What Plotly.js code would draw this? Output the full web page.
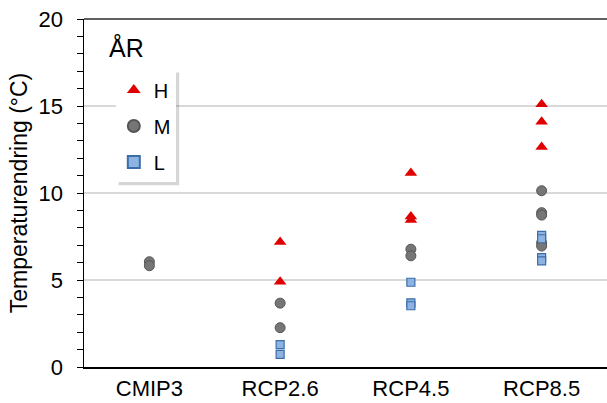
<!DOCTYPE html>
<html><head><meta charset="utf-8">
<script src="https://cdn.plot.ly/plotly-3.0.1.min.js"></script>
<style>html,body{margin:0;padding:0;background:#fff}</style>
</head><body>
<div id="chart" style="width:607px;height:403px"></div>
<script>
const categories = ["CMIP3", "RCP2.6", "RCP4.5", "RCP8.5"];
const hCat = ["RCP2.6","RCP2.6","RCP4.5","RCP4.5","RCP4.5","RCP8.5","RCP8.5","RCP8.5"];
const hVal = [7.18, 4.9, 11.15, 8.65, 8.45, 15.1, 14.1, 12.65];
const mCat = ["CMIP3","CMIP3","RCP2.6","RCP2.6","RCP4.5","RCP4.5","RCP8.5","RCP8.5","RCP8.5","RCP8.5","RCP8.5"];
const mVal = [6.05, 5.82, 3.67, 2.26, 6.77, 6.39, 10.13, 8.87, 8.73, 7.14, 6.95];
const lCat = ["RCP2.6","RCP2.6","RCP4.5","RCP4.5","RCP4.5","RCP8.5","RCP8.5","RCP8.5","RCP8.5"];
const lVal = [1.29, 0.72, 4.87, 3.69, 3.52, 7.56, 7.37, 6.29, 6.1];
const yTicks = [0, 5, 10, 15, 20];

const font = "Liberation Sans, Arial, sans-serif";
const traces = [
  {type:"scatter", mode:"markers", name:"H", legendgroup:"h", x:hCat, y:hVal,
   marker:{symbol:"triangle-up", size:11, color:"#e00000", line:{width:0}}},
  {type:"scatter", mode:"markers", name:"M", legendgroup:"m", x:mCat, y:mVal,
   marker:{symbol:"circle", size:10, color:"#767676", line:{width:1, color:"#555555"}}},
  {type:"scatter", mode:"markers", name:"L", legendgroup:"l", x:lCat, y:lVal,
   marker:{symbol:"square", size:8, color:"#8db3e2", line:{width:1.2, color:"#3b6ea8"}}}
];
const layout = {
  width:607, height:403,
  margin:{l:84, r:0, t:18.5, b:35.5},
  paper_bgcolor:"#fff", plot_bgcolor:"#fff",
  font:{family:font, size:22, color:"#000"},
  showlegend:true,
  legend:{x:0.057, y:0.852, xanchor:"left", yanchor:"top", bgcolor:"rgba(0,0,0,0)",
    borderwidth:0, font:{size:20, family:font}, itemsizing:"constant",
    traceorder:"grouped", tracegroupgap:7, itemwidth:30},
  xaxis:{type:"category", categoryorder:"array", categoryarray:categories,
    range:[-0.5, 3.5], showgrid:false, showline:true, linecolor:"#000", linewidth:1.5,
    ticks:"", tickfont:{size:22}, zeroline:false, fixedrange:true, ticklabelstandoff:1},
  yaxis:{range:[0, 20], tickvals:yTicks, showgrid:true, gridcolor:"#d9d9d9", gridwidth:1.5,
    showline:true, linecolor:"#000", linewidth:1.5, ticks:"outside", ticklen:6, tickcolor:"#000",
    minor:{dtick:1, ticks:"outside", ticklen:6, tickcolor:"#000", showgrid:false},
    tickfont:{size:22}, zeroline:false, ticklabelstandoff:9,
    title:{text:"Temperaturendring (°C)", font:{size:23}, standoff:4}},
  shapes:[
    {type:"line", xref:"paper", yref:"paper", x0:0, x1:1, y0:1, y1:1,
     line:{color:"#606060", width:2}, layer:"above"},
    {type:"rect", xref:"paper", yref:"paper", x0:0.066, x1:0.182, y0:0.522, y1:0.846,
     fillcolor:"rgba(0,0,0,0.16)", line:{width:0}, layer:"above"},
    {type:"rect", xref:"paper", yref:"paper", x0:0.0612, x1:0.176, y0:0.5315, y1:0.852,
     fillcolor:"#fff", line:{width:0}, layer:"above"}
  ],
  annotations:[
    {text:"ÅR", xref:"paper", yref:"paper", x:0.044, y:0.965, xanchor:"left", yanchor:"top",
     showarrow:false, font:{size:25, family:font}}
  ]
};
Plotly.newPlot("chart", traces, layout, {staticPlot:true, displayModeBar:false});
</script>
</body></html>
